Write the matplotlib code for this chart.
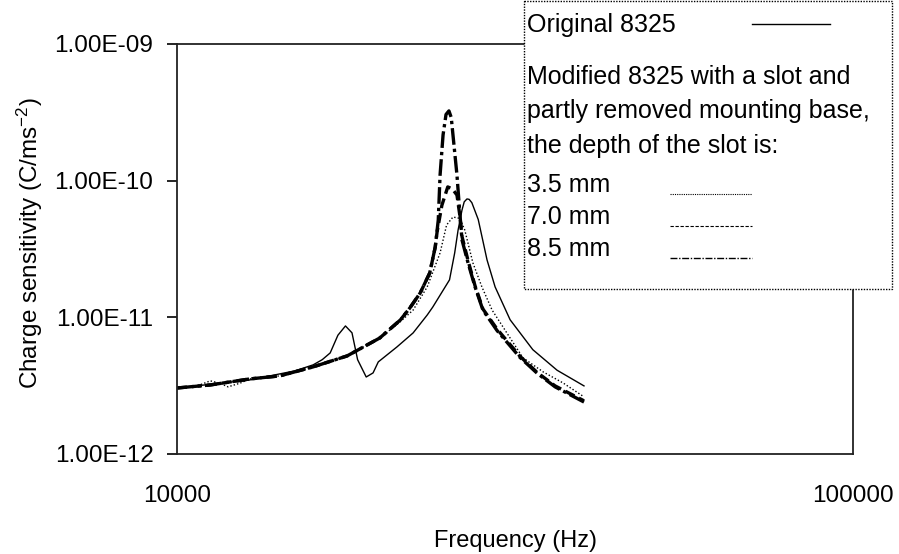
import matplotlib
matplotlib.use("Agg")
import matplotlib.pyplot as plt
from matplotlib.ticker import FixedLocator, FuncFormatter, NullLocator
from matplotlib.patches import Rectangle
from matplotlib.lines import Line2D

plt.rcParams['font.family'] = ['Liberation Sans', 'DejaVu Sans']
plt.rcParams['mathtext.fontset'] = 'custom'
plt.rcParams['mathtext.rm'] = 'Liberation Sans'
plt.rcParams['mathtext.it'] = 'Liberation Sans'

# ── Data (Hz, C/ms^-2) ──
freq_orig = [10000, 12800, 14950, 15900, 16400, 16850, 17300, 17750, 18150, 18500,
             19050, 19500, 19850, 21150, 22350, 23450, 23900, 25300, 25750, 26050,
             26400, 26600, 26850, 27050, 27300, 27900, 28750, 29550, 31100, 33600,
             36500, 40000]
sens_orig = [3.04e-12, 3.48e-12, 4.06e-12, 4.49e-12, 4.9e-12, 5.49e-12, 7.4e-12, 8.65e-12,
             7.7e-12, 4.9e-12, 3.66e-12, 3.92e-12, 4.72e-12, 6.07e-12, 7.69e-12, 1.04e-11,
             1.19e-11, 1.88e-11, 2.96e-11, 4.35e-11, 6.1e-11, 7.0e-11, 7.35e-11, 7.3e-11,
             6.9e-11, 5.2e-11, 2.63e-11, 1.67e-11, 9.6e-12, 5.8e-12, 4.1e-12, 3.15e-12]

freq_35 = [10000, 10700, 11200, 11550, 11900, 12400, 12800, 14200, 15900, 17850,
           19950, 21400, 22350, 23450, 24500, 25050, 25600, 26200, 26650, 27400,
           28250, 29250, 31100, 32500, 34800, 37250, 40000]
sens_35 = [3.04e-12, 3.14e-12, 3.43e-12, 3.3e-12, 3.1e-12, 3.3e-12, 3.54e-12, 3.73e-12,
           4.34e-12, 5.22e-12, 7.06e-12, 9.3e-12, 1.13e-11, 1.67e-11, 2.96e-11, 4.74e-11,
           5.42e-11, 5.3e-11, 4.35e-11, 2.5e-11, 1.67e-11, 1.13e-11, 7.06e-12, 5.05e-12,
           3.99e-12, 3.31e-12, 2.62e-12]

freq_70 = [10000, 11200, 12800, 14200, 15900, 17850, 19950, 21400, 22100, 22900,
           23650, 24100, 24250, 24650, 25150, 25550, 25950, 26200, 26400, 26950,
           27600, 28350, 29750, 32150, 34100, 36250, 40000]
sens_70 = [3.04e-12, 3.2e-12, 3.54e-12, 3.73e-12, 4.34e-12, 5.22e-12, 7.06e-12, 9.57e-12,
           1.17e-11, 1.51e-11, 2.11e-11, 3.27e-11, 4.2e-11, 6.6e-11, 9.0e-11, 8.7e-11,
           7.85e-11, 5.6e-11, 3.9e-11, 2.6e-11, 1.7e-11, 1.15e-11, 8.2e-12, 5.2e-12,
           3.95e-12, 3.15e-12, 2.45e-12]

freq_85 = [10000, 11200, 12800, 14200, 15900, 17850, 19950, 21400, 22100, 22900,
           23650, 24100, 24350, 24500, 24750, 25000, 25250, 25450, 25600, 25950,
           26150, 26400, 26950, 27600, 28350, 29750, 32150, 34100, 36250, 40000]
sens_85 = [3.04e-12, 3.2e-12, 3.54e-12, 3.73e-12, 4.34e-12, 5.22e-12, 7.06e-12, 9.57e-12,
           1.17e-11, 1.51e-11, 2.11e-11, 3.27e-11, 5.16e-11, 1.1e-10, 2.16e-10, 3.05e-10,
           3.24e-10, 2.9e-10, 2.16e-10, 1.1e-10, 6.63e-11, 3.68e-11, 2.5e-11, 1.67e-11,
           1.13e-11, 8.0e-12, 5.1e-12, 3.9e-12, 3.1e-12, 2.4e-12]

y_ticks = [1e-12, 1e-11, 1e-10, 1e-9]

# ── Figure ──
W, H = 899, 554
fig = plt.figure(figsize=(W / 100, H / 100), dpi=100)
ax = fig.add_axes([177 / W, 1 - 454 / H, 676 / W, 410 / H])

ax.plot(freq_orig, sens_orig, color='black', lw=1.0)
ax.plot(freq_35, sens_35, color='black', lw=1.0, linestyle=(0, (1, 1.5)))
ax.plot(freq_70, sens_70, color='black', lw=2.4, linestyle=(0, (3, 1.5)))
ax.plot(freq_85, sens_85, color='black', lw=2.4, linestyle=(0, (5, 1.2, 1, 1.2)))

ax.set_xscale('log')
ax.set_yscale('log')
ax.set_xlim(10000, 100000)
ax.set_ylim(1e-12, 1e-9)

ax.xaxis.set_major_locator(FixedLocator([10000, 100000]))
ax.xaxis.set_minor_locator(NullLocator())
ax.xaxis.set_major_formatter(FuncFormatter(lambda v, p: f"{int(round(v))}"))
ax.yaxis.set_major_locator(FixedLocator(y_ticks))
ax.yaxis.set_minor_locator(NullLocator())
ax.yaxis.set_major_formatter(FuncFormatter(lambda v, p: f"{v:.2E}"))

ax.tick_params(axis='x', length=0, pad=22, labelsize=17.5)
ax.tick_params(axis='y', direction='out', length=7, width=1.2, pad=10, labelsize=17.5)

for s in ax.spines.values():
    s.set_linewidth(1.3)
    s.set_color('#222222')

ax.set_xlabel("Frequency (Hz)", fontsize=17)
ax.xaxis.set_label_coords(0.5, -0.185)
ax.set_ylabel("Charge sensitivity (C/ms$^{-2}$)", fontsize=17.5)
ax.yaxis.set_label_coords(-0.195, 0.515)

# ── Legend box drawn in pixel coordinates ──
ov = fig.add_axes([0, 0, 1, 1], zorder=5)
ov.set_xlim(0, W)
ov.set_ylim(H, 0)
ov.axis('off')
ov.add_patch(Rectangle((524, 1), 368, 288, facecolor='white', edgecolor='black',
                       lw=1.0, linestyle=(0, (1, 1))))

fs = 18
ov.text(527, 32, "Original 8325", fontsize=fs, va='baseline')
ov.text(527, 84, "Modified 8325 with a slot and", fontsize=fs, va='baseline')
ov.text(527, 118, "partly removed mounting base,", fontsize=fs, va='baseline')
ov.text(527, 153, "the depth of the slot is:", fontsize=fs, va='baseline')
ov.text(527, 192, "3.5 mm", fontsize=fs, va='baseline')
ov.text(527, 224, "7.0 mm", fontsize=fs, va='baseline')
ov.text(527, 256, "8.5 mm", fontsize=fs, va='baseline')

ov.add_line(Line2D([752, 830], [24, 24], color='black', lw=1.0))
ov.add_line(Line2D([670, 752], [194, 194], color='black', lw=0.8, linestyle=(0, (1, 1))))
ov.add_line(Line2D([670, 752], [226, 226], color='black', lw=0.8, linestyle=(0, (3, 1.5))))
ov.add_line(Line2D([670, 752], [258, 258], color='black', lw=1.0,
                   linestyle=(0, (5, 1.2, 1, 1.2))))

fig.savefig("out.png", dpi=100)
